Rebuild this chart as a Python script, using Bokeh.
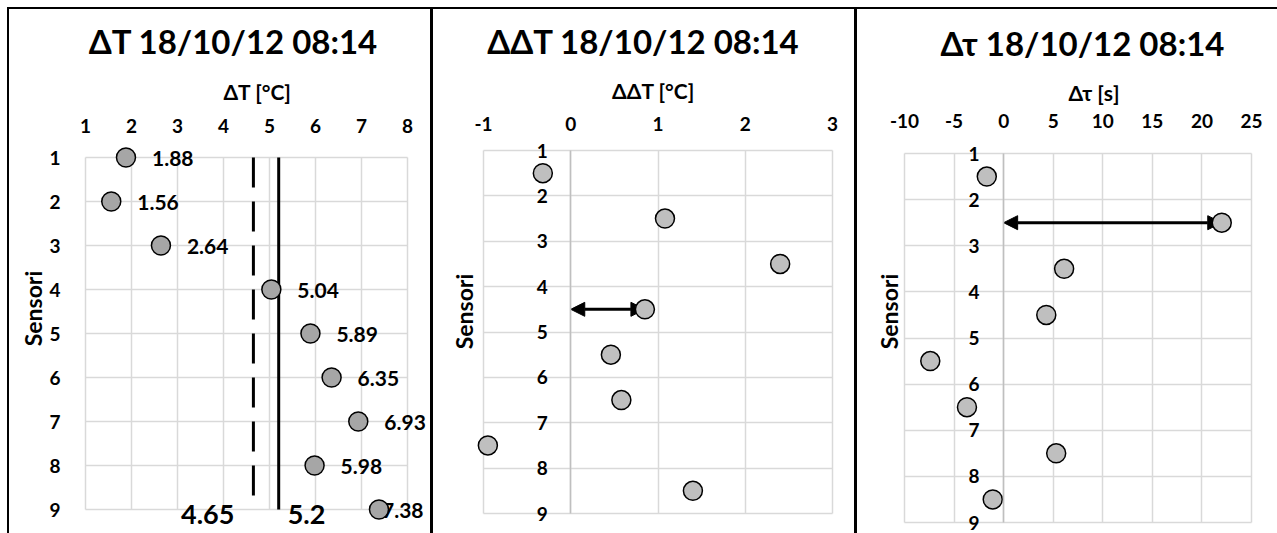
import math
from bokeh.plotting import figure
from bokeh.models import Range1d, FixedTicker, Label, Arrow, NormalHead, Spacer
from bokeh.layouts import row, column
from bokeh.core.properties import value
from bokeh.embed import file_html
from bokeh.resources import INLINE

FONT = "Lato"

# ---------------- data ----------------
sensors = [1, 2, 3, 4, 5, 6, 7, 8, 9]
delta_t = [1.88, 1.56, 2.64, 5.04, 5.89, 6.35, 6.93, 5.98, 7.38]
pair_pos = [1.5, 2.5, 3.5, 4.5, 5.5, 6.5, 7.5, 8.5]
delta_delta_t = [-0.32, 1.08, 2.40, 0.85, 0.46, 0.58, -0.95, 1.40]
delta_tau = [-1.7, 22.0, 6.1, 4.3, -7.4, -3.7, 5.3, -1.1]
ref_dashed = 4.65
ref_solid = 5.2
ddt_arrow_idx = 3
dtau_arrow_idx = 1

titles = ["ΔT 18/10/12 08:14", "ΔΔT 18/10/12 08:14", "Δτ 18/10/12 08:14"]
x_titles = ["ΔT [°C]", "ΔΔT [°C]", "Δτ [s]"]
y_title = "Sensori"
xticks_1 = [1, 2, 3, 4, 5, 6, 7, 8]
xticks_2 = [-1, 0, 1, 2, 3]
xticks_3 = [-10, -5, 0, 5, 10, 15, 20, 25]

H = 524
GRID = "#d9d9d9"
TICK_SIZE = "19px"
DATA_LABEL_SIZE = "21px"


def x_range_for(lo, hi, p_lo, p_hi, width):
    ppu = (p_hi - p_lo) / (hi - lo)
    return Range1d(lo - p_lo / ppu, hi + (width - p_hi) / ppu)


def y_range_for(lo, hi, p_lo, p_hi):
    # lo drawn at canvas p_lo (top), hi at canvas p_hi (bottom)
    ppu = (p_hi - p_lo) / (hi - lo)
    return Range1d(hi + (H - p_hi) / ppu, lo - p_lo / ppu)


def base_fig(width, xr, yr, xticks, x_lo_hi, y_fixed, xstandoff, ystandoff):
    p = figure(width=width, height=H, x_range=xr, y_range=yr,
               output_backend="svg", toolbar_location=None,
               x_axis_location="above",
               min_border_left=0, min_border_right=0,
               min_border_top=0, min_border_bottom=0)
    p.outline_line_color = None
    p.background_fill_color = "white"
    p.border_fill_color = "white"
    for ax in (p.xaxis[0], p.yaxis[0]):
        ax.major_tick_line_color = None
        ax.minor_tick_line_color = None
        ax.major_tick_out = 0
        ax.major_tick_in = 0
        ax.minor_tick_out = 0
        ax.minor_tick_in = 0
        ax.axis_line_color = None
        ax.major_label_text_font = FONT
        ax.major_label_text_font_style = "bold"
        ax.major_label_text_font_size = TICK_SIZE
        ax.major_label_text_color = "black"
    p.xaxis.ticker = FixedTicker(ticks=xticks)
    p.xaxis.major_label_overrides = {t: str(t) for t in xticks}
    p.yaxis.ticker = FixedTicker(ticks=sensors)
    p.xaxis.fixed_location = sensors[0]
    p.xaxis.bounds = x_lo_hi
    p.xaxis.major_label_standoff = xstandoff
    p.yaxis.fixed_location = y_fixed
    p.yaxis.bounds = (sensors[0], sensors[-1])
    p.yaxis.major_label_standoff = ystandoff
    p.xgrid.grid_line_color = GRID
    p.ygrid.grid_line_color = GRID
    p.xgrid.grid_line_width = 1.5
    p.ygrid.grid_line_width = 1.5
    p.xgrid.cross_bounds = (sensors[0], sensors[-1])
    p.ygrid.cross_bounds = x_lo_hi
    return p


def add_texts(p, origin, title, title_c, xtitle, xtitle_c, sens_c):
    ox, oy = origin

    def lab(text, c, size, angle=0.0):
        p.add_layout(Label(x=c[0] - ox, y=H - (c[1] - oy), x_units="screen", y_units="screen",
                           text=text, angle=angle, text_align="center", text_baseline="middle",
                           text_font=FONT, text_font_style="bold", text_font_size=size,
                           text_color="black"))

    lab(title, title_c, "33px")
    lab(xtitle, xtitle_c, "21px")
    lab(y_title, sens_c, "23px", math.pi / 2)


def add_arrow(p, x_end, y):
    p.add_layout(Arrow(start=NormalHead(size=14, fill_color="black", line_color="black"),
                       end=NormalHead(size=14, fill_color="black", line_color="black"),
                       x_start=0, y_start=y, x_end=x_end, y_end=y,
                       line_width=3, line_color="black", level="underlay"))


# ---------------- panel 1 ----------------
W1 = 421
p1 = base_fig(W1, x_range_for(1, 8, 76, 398, W1), y_range_for(1, 9, 148, 500),
              xticks_1, (1, 8), 1, 25, 25)

p1.line([ref_dashed, ref_dashed], [sensors[0], sensors[-1]], line_color="black",
        line_width=3, line_dash="30 14")
p1.line([ref_solid, ref_solid], [sensors[0], sensors[-1]], line_color="black",
        line_width=3)

lab_txt = ["%.2f" % v for v in delta_t]
p1.text(x=delta_t[:-1], y=sensors[:-1], text=lab_txt[:-1], x_offset=26, y_offset=1,
        text_align="left", text_baseline="middle", text_font=value(FONT),
        text_font_style="bold", text_font_size=DATA_LABEL_SIZE, text_color="black")
p1.text(x=delta_t[-1:], y=sensors[-1:], text=lab_txt[-1:], x_offset=3, y_offset=1,
        text_align="left", text_baseline="middle", text_font=value(FONT),
        text_font_style="bold", text_font_size=DATA_LABEL_SIZE, text_color="black")
p1.scatter(delta_t, sensors, marker="circle", size=19, fill_color="#a6a6a6",
           line_color="black", line_width=1.5)
p1.text(x=[ref_dashed], y=[sensors[-1]], text=["%g" % ref_dashed], x_offset=-19, y_offset=5,
        text_align="right", text_baseline="middle", text_font=value(FONT),
        text_font_style="bold", text_font_size="27px", text_color="black")
p1.text(x=[ref_solid], y=[sensors[-1]], text=["%g" % ref_solid], x_offset=9, y_offset=5,
        text_align="left", text_baseline="middle", text_font=value(FONT),
        text_font_style="bold", text_font_size="27px", text_color="black")
add_texts(p1, (9, 9), titles[0], (233, 40), x_titles[0], (257, 91), (32, 308))

# ---------------- panel 2 ----------------
W2 = 421
p2 = base_fig(W2, x_range_for(-1, 3, 50, 399, W2), y_range_for(1, 9, 141, 504),
              xticks_2, (-1, 3), 0, 20, 23)
p2.yaxis.axis_line_color = "#bfbfbf"
p2.yaxis.axis_line_width = 1.5
add_arrow(p2, delta_delta_t[ddt_arrow_idx], pair_pos[ddt_arrow_idx])
p2.scatter(delta_delta_t, pair_pos, marker="circle", size=19, fill_color="#bfbfbf",
           line_color="black", line_width=1.5)
add_texts(p2, (433, 9), titles[1], (643, 40), x_titles[1], (653, 90), (463, 311))

# ---------------- panel 3 ----------------
W3 = 420
p3 = base_fig(W3, x_range_for(-10, 25, 47, 394, W3), y_range_for(1, 9, 144, 513),
              xticks_3, (-10, 25), 0, 26, 24)
p3.yaxis.axis_line_color = "#bfbfbf"
p3.yaxis.axis_line_width = 1.5
add_arrow(p3, delta_tau[dtau_arrow_idx], pair_pos[dtau_arrow_idx])
p3.scatter(delta_tau, pair_pos, marker="circle", size=19, fill_color="#bfbfbf",
           line_color="black", line_width=1.5)
add_texts(p3, (857, 9), titles[2], (1082, 42), x_titles[2], (1093, 92), (888, 311))

# ---------------- frame lines ----------------
BLACK = {"background-color": "black"}
top_line = Spacer(width=1270, height=2, styles=BLACK)
v_left = Spacer(width=2, height=H, styles=BLACK)
v_mid1 = Spacer(width=3, height=H, styles=BLACK)
v_mid2 = Spacer(width=3, height=H, styles=BLACK)

layout = column(Spacer(width=1277, height=7),
                row(Spacer(width=7, height=2), top_line),
                row(Spacer(width=7, height=H), v_left, p1, v_mid1, p2, v_mid2, p3))

open("out.html", "w").write(file_html(layout, INLINE))
